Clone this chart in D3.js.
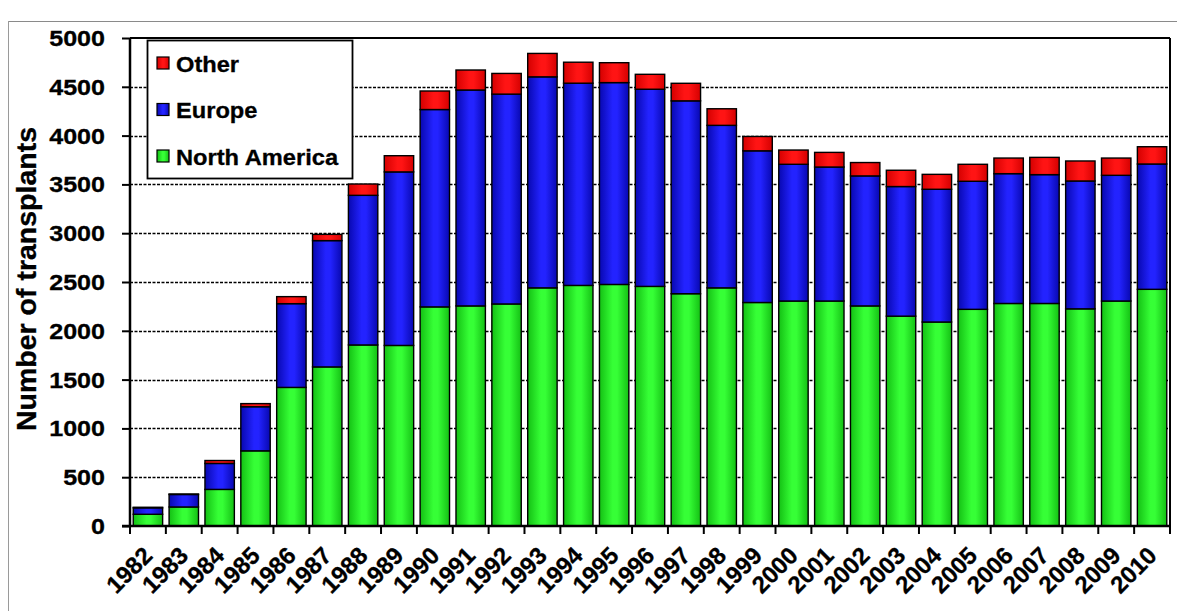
<!DOCTYPE html>
<html>
<head>
<meta charset="utf-8">
<script src="https://cdn.jsdelivr.net/npm/d3@7"></script>
<style>
  html, body { margin: 0; padding: 0; background: #fff; }
  svg { display: block; font-family: "Liberation Sans", Arial, sans-serif; }
</style>
</head>
<body>
<svg id="chart" width="1179" height="615"></svg>
<script>
// Transplants per year, by region
const years = [1982,1983,1984,1985,1986,1987,1988,1989,1990,1991,1992,1993,1994,1995,1996,
               1997,1998,1999,2000,2001,2002,2003,2004,2005,2006,2007,2008,2009,2010];
const northAmerica = [120,195,375,770,1420,1630,1855,1850,2245,2255,2275,2440,2465,2475,2455,
                      2380,2440,2290,2305,2305,2255,2150,2090,2220,2280,2280,2225,2305,2425];
const europe = [66,128,266,452,858,1294,1533,1778,2022,2212,2150,2162,2072,2068,2020,
                1976,1665,1554,1401,1373,1332,1328,1360,1312,1330,1320,1310,1288,1284];
const other = [6,5,30,32,72,64,116,166,190,205,212,240,215,204,153,
               180,170,147,146,150,137,167,153,174,160,177,205,177,177];
const yTicks = [0,500,1000,1500,2000,2500,3000,3500,4000,4500,5000];

const seriesNames = ["North America","Europe","Other"];
const seriesColors = {
  "North America": ["#14c014", "#36ff36"],
  "Europe": ["#0808b0", "#2323ff"],
  "Other": ["#d40000", "#ff1414"]
};
const legendOrder = ["Other","Europe","North America"];

const svg = d3.select("#chart");
const margin = {left: 130, right: 9, top: 38, bottom: 89};
const W = 1179, H = 615;
const x0 = margin.left, x1 = W - margin.right, y0 = H - margin.bottom, y1 = margin.top;

// outer frame
svg.append("line").attr("x1", 9).attr("x2", 1177).attr("y1", 21.5).attr("y2", 21.5)
  .attr("stroke", "#8a8a8a").attr("stroke-width", 1);
svg.append("line").attr("x1", 8.5).attr("x2", 8.5).attr("y1", 21).attr("y2", 611)
  .attr("stroke", "#9a9a9a").attr("stroke-width", 1);

// horizontal shading for the bars
const defs = svg.append("defs");
seriesNames.forEach((name, i) => {
  const [dark, bright] = seriesColors[name];
  const g = defs.append("linearGradient").attr("id", "grad" + i)
    .attr("x1", "0%").attr("x2", "100%").attr("y1", "0%").attr("y2", "0%");
  g.append("stop").attr("offset", "0%").attr("stop-color", dark);
  g.append("stop").attr("offset", "45%").attr("stop-color", bright);
  g.append("stop").attr("offset", "60%").attr("stop-color", bright);
  g.append("stop").attr("offset", "100%").attr("stop-color", dark);
});

const x = d3.scaleBand().domain(years).range([x0, x1]).paddingInner(0.18).paddingOuter(0.09);
const y = d3.scaleLinear().domain([0, 5000]).range([y0, y1]);

// dashed gridlines
svg.append("g").selectAll("line").data(yTicks.filter(t => t > 0 && t < 5000)).join("line")
  .attr("x1", x0).attr("x2", x1)
  .attr("y1", d => Math.round(y(d)) + 0.5).attr("y2", d => Math.round(y(d)) + 0.5)
  .attr("stroke", "#000").attr("stroke-width", 1.6).attr("stroke-dasharray", "3,1.5");

// stacked bars
const rows = years.map((yr, i) => ({year: yr, "North America": northAmerica[i], "Europe": europe[i], "Other": other[i]}));
const stack = d3.stack().keys(seriesNames)(rows);
const layer = svg.append("g").selectAll("g").data(stack).join("g")
  .attr("fill", (d, i) => `url(#grad${i})`);
layer.selectAll("rect").data(d => d).join("rect")
  .attr("x", d => x(d.data.year))
  .attr("width", x.bandwidth())
  .attr("y", d => y(d[1]))
  .attr("height", d => y(d[0]) - y(d[1]))
  .attr("stroke", "#000").attr("stroke-width", 1.4);

// plot frame: top and right solid borders
svg.append("line").attr("x1", x0).attr("x2", x1).attr("y1", y1).attr("y2", y1)
  .attr("stroke", "#000").attr("stroke-width", 2);
svg.append("line").attr("x1", x1).attr("x2", x1).attr("y1", y1).attr("y2", y0)
  .attr("stroke", "#000").attr("stroke-width", 2);

// y axis
const yAxis = svg.append("g").attr("transform", `translate(${x0},0)`)
  .call(d3.axisLeft(y).tickValues(yTicks).tickSize(8).tickFormat(""));
yAxis.select(".domain").attr("stroke", "#000").attr("stroke-width", 2.5).attr("d", `M0,${y1}V${y0}`);
yAxis.selectAll(".tick line").attr("stroke", "#000").attr("stroke-width", 2);
svg.append("g").selectAll("text").data(yTicks).join("text")
  .attr("transform", d => `translate(105,${y(d)}) scale(1.14,1)`)
  .attr("text-anchor", "end").attr("dy", "0.36em")
  .attr("font-size", 22).attr("font-weight", "bold").attr("fill", "#000")
  .attr("stroke", "#000").attr("stroke-width", 0.3)
  .text(d => d);

// x axis with ticks between the bars
const xAxis = svg.append("g").attr("transform", `translate(0,${y0})`);
xAxis.append("line").attr("x1", x0 - 8).attr("x2", x1 + 1).attr("y1", 0).attr("y2", 0)
  .attr("stroke", "#000").attr("stroke-width", 2.5);
xAxis.selectAll("line.tk").data(d3.range(years.length + 1)).join("line").attr("class", "tk")
  .attr("x1", i => x0 + i * (x1 - x0) / years.length)
  .attr("x2", i => x0 + i * (x1 - x0) / years.length)
  .attr("y1", 0).attr("y2", 8).attr("stroke", "#000").attr("stroke-width", 2);
xAxis.selectAll("text").data(years).join("text")
  .attr("transform", d => `translate(${x(d) + x.bandwidth() / 2 + 6},${31}) rotate(-45)`)
  .attr("text-anchor", "end")
  .attr("font-size", 24).attr("font-weight", "bold").attr("fill", "#000")
  .attr("stroke", "#000").attr("stroke-width", 0.3)
  .text(d => d);

// y axis title
svg.append("text")
  .attr("transform", `translate(36,279) rotate(-90)`)
  .attr("text-anchor", "middle")
  .attr("font-size", 28.5).attr("font-weight", "bold").attr("fill", "#000")
  .attr("stroke", "#000").attr("stroke-width", 0.3)
  .text("Number of transplants");

// legend
const lg = svg.append("g");
lg.append("rect").attr("x", 147.5).attr("y", 40.5).attr("width", 205).attr("height", 138)
  .attr("fill", "#fff").attr("stroke", "#000").attr("stroke-width", 1.8);
const items = lg.selectAll("g.item").data(legendOrder).join("g").attr("class", "item")
  .attr("transform", (d, i) => `translate(157,${57 + i * 46.5})`);
items.append("rect").attr("width", 12).attr("height", 12)
  .attr("fill", d => `url(#grad${seriesNames.indexOf(d)})`)
  .attr("stroke", "#000").attr("stroke-width", 1.2);
items.append("text")
  .attr("transform", "translate(19,14.5) scale(1.1,1)")
  .attr("font-size", 21.5).attr("font-weight", "bold").attr("fill", "#000")
  .attr("stroke", "#000").attr("stroke-width", 0.3)
  .text(d => d);
</script>
</body>
</html>
